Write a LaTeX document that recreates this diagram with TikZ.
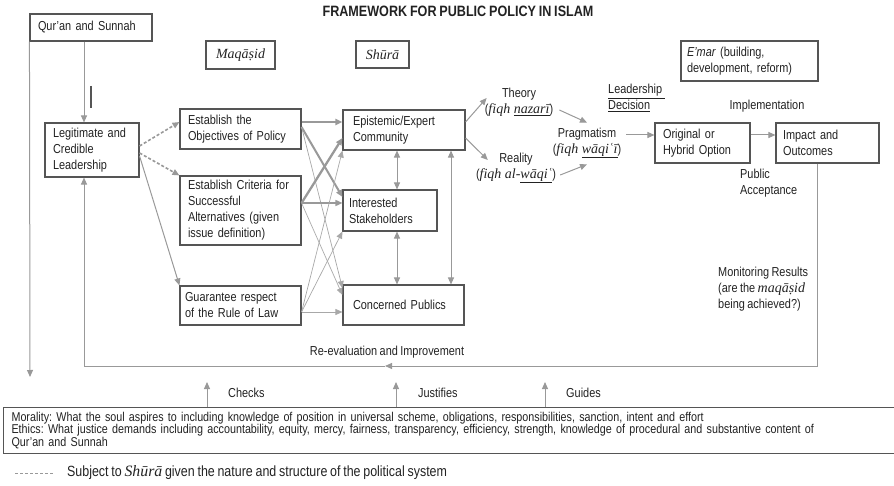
\documentclass[tikz,border=0pt]{standalone}
\usepackage{fontspec}
\setmainfont{Liberation Sans}[FakeStretch=0.84, WordSpace=0.8]
\newfontfamily\trfont{Liberation Serif}
\usetikzlibrary{arrows.meta, positioning, calc}
\definecolor{boxline}{HTML}{555555}
\definecolor{conn}{HTML}{999999}
\definecolor{txt}{HTML}{222222}
\newcommand{\translit}[1]{{\trfont\itshape\fontsize{14}{16}\selectfont #1}}
\frenchspacing
\tikzset{
    every node/.style={font=\fontsize{13}{16}\selectfont, text=txt},
    box/.style={draw=boxline, line width=1.1pt, align=left, inner xsep=8pt, inner ysep=2pt}, % framed boxes, text set flush left
    lbl/.style={align=left, inner sep=1pt},
    ln/.style={draw=conn, line width=1pt},
    arr/.style={ln, -{Triangle[length=7pt,width=6pt]}},
    dbl/.style={ln, {Triangle[length=7pt,width=6pt]}-{Triangle[length=7pt,width=6pt]}},
    dsh/.style={arr, line width=1.6pt, dash pattern=on 3pt off 2pt},
    heavy/.style={line width=2pt},
    light/.style={line width=0.7pt, draw=conn!85}
}
\begin{document}
\begin{tikzpicture}[x=1pt, y=-1pt]
\useasboundingbox (0,0) rectangle (894,486);

% title and the three headers
\node[font=\fontsize{15}{16}\selectfont\bfseries] (title) at (458,11) {FRAMEWORK FOR PUBLIC POLICY IN ISLAM};
\node[box, text width=106pt, minimum height=27pt] (quran) at (91,27.5) {Qur’an and Sunnah};
\node[box, align=center, inner xsep=2pt, minimum width=69pt, minimum height=28pt] (maqasid) at (240.5,55) {\translit{Maqāṣid}};
\node[box, align=center, inner xsep=2pt, minimum width=53pt, minimum height=27pt] (shura) at (382.5,54.5) {\translit{Shūrā}};
\node[box, text width=125pt, inner xsep=6pt, minimum height=40pt] (emar) at (749.5,61) {\textit{E’mar} (building,\\development, reform)};

% leadership and the maqasid column
\node[box, text width=78pt, minimum height=54pt] (legit) at (92,150) {Legitimate and\\Credible\\Leadership};
\node[box, text width=105pt, minimum height=40pt] (obj) at (240.5,129) {Establish the\\Objectives of Policy};
\node[box, text width=105pt, minimum height=69pt] (crit) at (240.5,210.5) {Establish Criteria for\\Successful\\Alternatives (given\\issue definition)};
\node[box, text width=111pt, inner xsep=5pt, minimum height=39pt] (guar) at (240.5,305.5) {Guarantee respect\\of the Rule of Law};

% shura column
\node[box, text width=102pt, inner xsep=10pt, minimum height=40pt] (epi) at (404,130) {Epistemic/Expert\\Community};
\node[box, text width=82pt, inner xsep=6pt, minimum height=41pt] (intr) at (390,210.5) {Interested\\Stakeholders};
\node[box, text width=101pt, inner xsep=10pt, minimum height=40pt] (conc) at (403.5,305) {Concerned Publics};

% decision path
\node[lbl, align=center] (theory) at (519,102) {Theory\\(\translit{fiqh \underline{nazarī}})};
\node[lbl, align=center] (reality) at (516,168) {Reality\\(\translit{fiqh al-\underline{wāqiʿ}})};
\node[lbl, align=center] (prag) at (587,143) {Pragmatism\\(\translit{fiqh \underline{wāqiʿī}})};
\node[lbl, anchor=west] (lead) at (607,98) {\underline{Leadership\ }\\\underline{Decision}};
\node[lbl] (impl) at (767,106) {Implementation};
\node[box, text width=79pt, minimum height=40pt] (orig) at (702.5,143) {Original or\\Hybrid Option};
\node[box, text width=89pt, inner xsep=7pt, minimum height=40pt] (imp) at (827.5,143) {Impact and\\Outcomes};
\node[lbl, anchor=west] (pub) at (739,183.5) {Public\\Acceptance};
\node[lbl, anchor=west] (monit) at (717,289.5) {Monitoring Results\\(are the \translit{maqāṣid}\\being achieved?)};
\node[lbl] (reeval) at (387,352) {Re-evaluation and Improvement};

% values box and legend
\node[box, anchor=north west, text width=900pt, minimum height=46pt, font=\fontsize{12.8}{11.5}\selectfont] (values) at (3,407)
    {Morality: What the soul aspires to including knowledge of position in universal scheme, obligations, responsibilities, sanction, intent and effort\\
     Ethics: What justice demands including accountability, equity, mercy, fairness, transparency, efficiency, strength, knowledge of procedural and substantive content of\\
     Qur’an and Sunnah};
\node[lbl, anchor=west] (checks) at (227,393) {Checks};
\node[lbl, anchor=west] (justif) at (417,393) {Justifies};
\node[lbl, anchor=west] (guides) at (565,393) {Guides};
\node[lbl, anchor=west, font=\fontsize{14.8}{16}\selectfont] (legend) at (66,473) {Subject to {\trfont\itshape\fontsize{15.8}{16}\selectfont Shūrā} given the nature and structure of the political system};

% helper coordinates
\coordinate (qx) at (84,0);
\coordinate (qend) at (30,377);
\coordinate (v1) at (397,0);
\coordinate (v2) at (451,0);
\coordinate (vr) at (817,366);
\coordinate (vm) at (385,366);
\coordinate (vl) at (84,366);
\coordinate (ck) at (207,382);
\coordinate (js) at (396,382);
\coordinate (gd) at (545,382);
\coordinate (dstart) at (15,473);

% sources
\draw[arr] (quran.south west) -- (qend);
\draw[arr] (quran.south -| qx) -- (legit.north -| qx);
\draw[boxline, line width=1.2pt] (91,86) -- (91,108);
\draw[dsh] ([yshift=4pt]legit.east) -- ([yshift=7pt]obj.west);
\draw[dsh] ([yshift=-3pt]legit.east) -- (crit.north west);
\draw[arr] ([yshift=-6pt]legit.east) -- (guar.north west);

% maqasid -> shura
\draw[arr, heavy] ([yshift=7pt]obj.east) -- ([yshift=8pt]epi.west);
\draw[arr, heavy] ([yshift=2pt]obj.east) -- ([yshift=13.5pt]intr.west);
\draw[arr, light] ([yshift=2pt]obj.east) -- ([yshift=17pt]conc.west);
\draw[arr, heavy, line width=2.3pt] ([yshift=7.5pt]crit.east) -- ([yshift=-8pt]epi.west);
\draw[arr, line width=1.5pt] ([yshift=7.5pt]crit.east) -- ([yshift=7.5pt]intr.west);
\draw[arr, light] ([yshift=7.5pt]crit.east) -- ([yshift=10pt]conc.west);
\draw[arr, light] ([yshift=-6.5pt]guar.east) -- (epi.south west);
\draw[arr, light] ([yshift=-6.5pt]guar.east) -- (intr.south west);
\draw[arr, light] ([yshift=-6.5pt]guar.east) -- ([yshift=-7pt]conc.west);

% within shura
\draw[dbl] (epi.south -| v1) -- (intr.north -| v1);
\draw[dbl] (intr.south -| v1) -- (conc.north -| v1);
\draw[dbl] (epi.south -| v2) -- (conc.north -| v2);

% decision and implementation
\draw[arr] ([yshift=8pt]epi.east) -- ([xshift=3pt,yshift=4pt]theory.west);
\draw[arr] ([yshift=-8pt]epi.east) -- ([xshift=13pt,yshift=8pt]reality.west);
\draw[arr] ([xshift=5pt,yshift=-8pt]theory.east) -- ([yshift=4pt]prag.north);
\draw[arr] ([xshift=3pt,yshift=-7pt]reality.east) -- ([yshift=-5pt]prag.south);
\draw[arr] ([xshift=4pt,yshift=8pt]prag.east) -- ([yshift=8pt]orig.west);
\draw[arr] ([yshift=8pt]orig.east) -- ([yshift=8pt]imp.west);

% feedback loop
\draw[arr] (imp.south -| vr) -- (vr) -- (vm);
\draw[arr] (vm) -- (vl) -- (legit.south -| vl);

% values underneath
\draw[arr] (values.north -| ck) -- (ck);
\draw[arr] (values.north -| js) -- (js);
\draw[arr] (values.north -| gd) -- (gd);
\draw[ln, line width=0.8pt, dash pattern=on 3pt off 2pt] (dstart) -- ([xshift=-12pt]legend.west);
\end{tikzpicture}
\end{document}
